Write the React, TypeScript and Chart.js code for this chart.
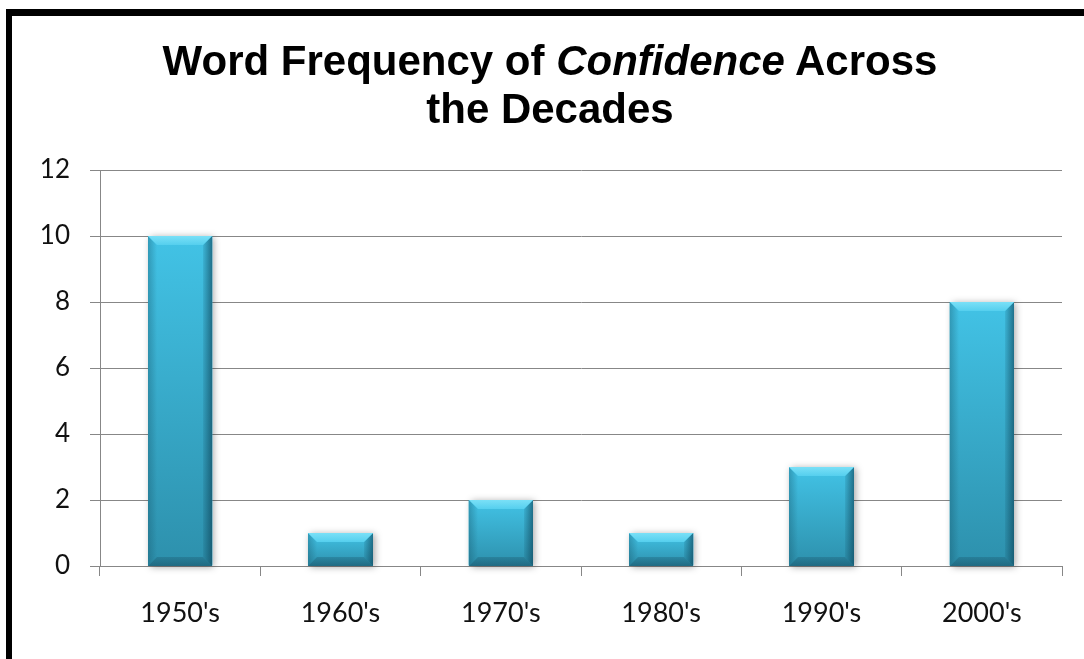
import React, { useEffect, useRef } from "react";
import { Chart, registerables } from "chart.js";

Chart.register(...registerables);

const categories: string[] = ["1950's", "1960's", "1970's", "1980's", "1990's", "2000's"];
const frequencies: number[] = [10, 1, 2, 1, 3, 8];
const yMin = 0;
const yMax = 12;
const yStep = 2;

const W = 1084;
const H = 659;

const bevelPlugin = {
  id: "bevelBars",
  beforeDatasetsDraw(chart: any) {
    const ctx = chart.ctx;
    const meta = chart.getDatasetMeta(0);
    ctx.save();
    meta.data.forEach((el: any) => {
      const { x, y, base, width } = el.getProps(["x", "y", "base", "width"], true);
      const l = x - width / 2;
      ctx.shadowColor = "rgba(0,0,0,0.35)";
      ctx.shadowBlur = 7;
      ctx.shadowOffsetX = 2;
      ctx.shadowOffsetY = 1;
      ctx.fillStyle = "#2f9ab8";
      ctx.fillRect(l, y, width, base - y);
    });
    ctx.restore();
  },
  afterDatasetsDraw(chart: any) {
    const ctx = chart.ctx;
    const meta = chart.getDatasetMeta(0);
    ctx.save();
    meta.data.forEach((el: any) => {
      const { x, y, base, width } = el.getProps(["x", "y", "base", "width"], true);
      const l = Math.round(x - width / 2);
      const r = Math.round(x + width / 2);
      const t = Math.round(y);
      const b = Math.round(base);
      const h = b - t;
      const bv = Math.min(9, h / 2, (r - l) / 2);
      // face
      const g = ctx.createLinearGradient(0, t, 0, b);
      g.addColorStop(0, "#42c3e6");
      g.addColorStop(1, "#2d90ac");
      ctx.fillStyle = g;
      ctx.fillRect(l, t, r - l, h);
      // left bevel
      ctx.beginPath();
      ctx.moveTo(l, t);
      ctx.lineTo(l + bv, t + bv);
      ctx.lineTo(l + bv, b - bv);
      ctx.lineTo(l, b);
      ctx.closePath();
      const gl = ctx.createLinearGradient(l, 0, l + bv, 0);
      gl.addColorStop(0, "rgba(20,80,100,0.35)");
      gl.addColorStop(1, "rgba(20,80,100,0.0)");
      ctx.fillStyle = gl;
      ctx.fill();
      // right bevel
      ctx.beginPath();
      ctx.moveTo(r, t);
      ctx.lineTo(r - bv, t + bv);
      ctx.lineTo(r - bv, b - bv);
      ctx.lineTo(r, b);
      ctx.closePath();
      const gr = ctx.createLinearGradient(r - bv, 0, r, 0);
      gr.addColorStop(0, "rgba(10,60,80,0.1)");
      gr.addColorStop(1, "rgba(10,60,80,0.6)");
      ctx.fillStyle = gr;
      ctx.fill();
      // bottom bevel
      ctx.beginPath();
      ctx.moveTo(l, b);
      ctx.lineTo(l + bv, b - bv);
      ctx.lineTo(r - bv, b - bv);
      ctx.lineTo(r, b);
      ctx.closePath();
      const gb = ctx.createLinearGradient(0, b - bv, 0, b);
      gb.addColorStop(0, "rgba(20,70,90,0.25)");
      gb.addColorStop(1, "rgba(20,70,90,0.5)");
      ctx.fillStyle = gb;
      ctx.fill();
      // top bevel
      ctx.beginPath();
      ctx.moveTo(l, t);
      ctx.lineTo(r, t);
      ctx.lineTo(r - bv, t + bv);
      ctx.lineTo(l + bv, t + bv);
      ctx.closePath();
      const gt = ctx.createLinearGradient(0, t, 0, t + bv);
      gt.addColorStop(0, "#7ae0f7");
      gt.addColorStop(1, "#55cfee");
      ctx.fillStyle = gt;
      ctx.fill();
    });
    ctx.restore();
  },
};

export default function App() {
  const canvasRef = useRef<HTMLCanvasElement | null>(null);

  useEffect(() => {
    const canvas = canvasRef.current;
    if (!canvas) return;
    const chart = new Chart(canvas, {
      type: "bar",
      data: {
        labels: categories,
        datasets: [
          {
            label: "Frequency",
            data: frequencies,
            backgroundColor: "#36a9c9",
            borderWidth: 0,
            barPercentage: 0.4,
            categoryPercentage: 1.0,
          },
        ],
      },
      options: {
        responsive: false,
        animation: false,
        devicePixelRatio: 1,
        layout: { padding: { left: 0, right: 22, top: 170, bottom: 0 } },
        plugins: {
          legend: { display: false },
          title: { display: false },
          tooltip: { enabled: false },
        },
        scales: {
          x: {
            offset: true,
            grid: {
              offset: true,
              drawOnChartArea: false,
              drawTicks: true,
              tickLength: 10,
              color: "#878787",
            },
            border: { display: true, color: "#878787", width: 1 },
            ticks: {
              padding: 21,
              color: "#111111",
              font: { family: "Lato", size: 27 },
              maxRotation: 0,
            },
            afterFit: (s: any) => {
              s.height = 93;
            },
          },
          y: {
            min: yMin,
            max: yMax,
            grid: {
              color: "#878787",
              drawTicks: true,
              tickLength: 10,
            },
            border: { display: true, color: "#878787", width: 1 },
            ticks: {
              stepSize: yStep,
              padding: 20,
              color: "#111111",
              font: { family: "Lato", size: 26 },
            },
            afterFit: (s: any) => {
              s.width = 100;
            },
          },
        },
      },
      plugins: [bevelPlugin],
    });
    return () => chart.destroy();
  }, []);

  return (
    <div
      style={{
        position: "fixed",
        left: 0,
        top: 0,
        width: W,
        height: H,
        overflow: "hidden",
        background: "#ffffff",
      }}
    >
      <canvas
        ref={canvasRef}
        width={W}
        height={H}
        style={{ position: "absolute", left: 0, top: 0, width: W, height: H }}
      />
      <div
        style={{
          position: "absolute",
          left: 6,
          top: 9,
          width: 1200,
          height: 800,
          borderTop: "7px solid #000",
          borderLeft: "6px solid #000",
          boxSizing: "border-box",
          pointerEvents: "none",
        }}
      />
      <div
        style={{
          position: "absolute",
          left: 0,
          top: 37,
          width: 1100,
          textAlign: "center",
          fontFamily: "'Liberation Sans', Arial, sans-serif",
          fontWeight: "bold",
          fontSize: 42,
          lineHeight: "48px",
          color: "#000",
        }}
      >
        Word Frequency of <i>Confidence</i> Across
        <br />
        the Decades
      </div>
    </div>
  );
}
